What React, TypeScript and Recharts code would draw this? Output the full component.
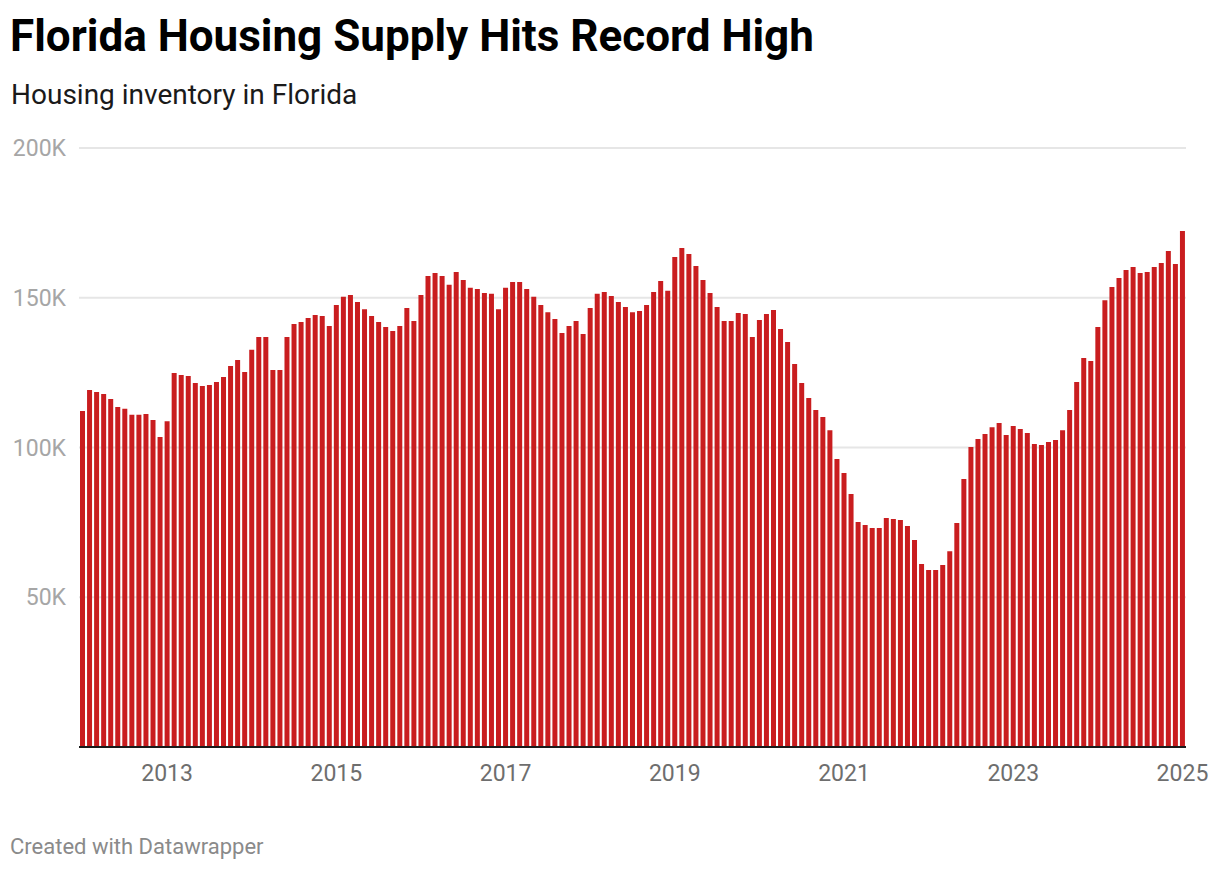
import { BarChart, Bar, XAxis, YAxis, CartesianGrid } from 'recharts';

// housing inventory, thousands, monthly Jan 2012 .. Jan 2025
const v2012 = [112.2, 119.2, 118.5, 117.9, 116.2, 113.5, 112.9, 110.9, 110.9, 111.2, 109.2, 103.5];
const v2013 = [108.8, 124.9, 124.2, 123.9, 121.5, 120.5, 120.9, 121.9, 123.5, 127.2, 129.2, 125.2];
const v2014 = [132.6, 136.9, 136.9, 125.9, 125.9, 136.9, 141.2, 141.9, 143.2, 144.2, 143.9, 140.6];
const v2015 = [147.6, 150.3, 150.9, 148.6, 146.2, 143.9, 141.9, 140.2, 138.9, 140.6, 146.6, 142.2];
const v2016 = [150.9, 157.3, 158.3, 157.3, 154.3, 158.6, 155.9, 153.3, 152.9, 151.6, 151.3, 146.2];
const v2017 = [153.3, 155.3, 155.3, 152.9, 150.3, 147.6, 145.2, 142.9, 138.2, 140.6, 142.2, 137.9];
const v2018 = [146.6, 151.3, 151.9, 150.6, 148.6, 146.9, 145.2, 145.6, 147.6, 151.9, 155.6, 152.3];
const v2019 = [163.6, 166.6, 164.6, 160.6, 155.9, 151.6, 146.9, 142.2, 142.2, 144.9, 144.6, 136.9];
const v2020 = [142.6, 144.6, 145.9, 139.6, 135.2, 127.9, 121.5, 116.5, 112.5, 110.2, 105.8, 96.2];
const v2021 = [91.5, 84.5, 75.1, 74.1, 73.1, 73.1, 76.5, 76.1, 75.8, 73.8, 69.1, 61.1];
const v2022 = [59.1, 59.1, 60.8, 65.4, 74.8, 89.5, 100.2, 102.8, 104.5, 106.8, 108.2, 104.2];
const v2023 = [107.2, 106.2, 104.8, 101.2, 100.8, 101.8, 102.5, 105.8, 112.5, 121.9, 129.9, 128.9];
const v2024 = [140.2, 149.2, 153.6, 156.6, 159.3, 160.3, 158.3, 158.6, 160.3, 161.6, 165.6, 161.3];
const v2025 = [172.3];

const years = [2012, 2013, 2014, 2015, 2016, 2017, 2018, 2019, 2020, 2021, 2022, 2023, 2024, 2025];
const byYear = [v2012, v2013, v2014, v2015, v2016, v2017, v2018, v2019, v2020, v2021, v2022, v2023, v2024, v2025];
const yTicks = [50000, 100000, 150000, 200000];
const xTicks = ['2013-01', '2015-01', '2017-01', '2019-01', '2021-01', '2023-01', '2025-01'];

const data = years.flatMap((y, yi) =>
  byYear[yi].map((v, m) => ({ month: `${y}-${String(m + 1).padStart(2, '0')}`, inventory: v * 1000 }))
);

const font = 'Roboto, "Noto Sans", sans-serif';

export default function App() {
  return (
    <div style={{ position: 'absolute', left: 0, top: 0, width: 1220, height: 870, background: '#fff', fontFamily: font }}>
      <div style={{ position: 'absolute', left: 10, top: 14, fontSize: 44, fontWeight: 700, lineHeight: 1, color: '#000', whiteSpace: 'nowrap' }}>
        Florida Housing Supply Hits Record High
      </div>
      <div style={{ position: 'absolute', left: 11, top: 81, fontSize: 28, lineHeight: 1, color: '#1a1a1a', whiteSpace: 'nowrap' }}>
        Housing inventory in Florida
      </div>
      <div style={{ position: 'absolute', left: 0, top: 0 }}>
        <BarChart width={1220} height={870} data={data} margin={{ top: 148, right: 34, bottom: 93, left: 0 }} barCategoryGap={1}>
          <CartesianGrid vertical={false} stroke="#e6e6e6" strokeWidth={2} />
          <XAxis
            dataKey="month"
            ticks={xTicks}
            interval={0}
            height={30}
            tickFormatter={(v: string) => v.slice(0, 4)}
            axisLine={{ stroke: '#1a1a1a', strokeWidth: 2 }}
            tickLine={false}
            tickSize={0}
            tickMargin={18}
            tick={{ fill: '#6e6e6e', fontSize: 23, fontFamily: font }}
          />
          <YAxis
            width={79}
            domain={[0, 200000]}
            ticks={yTicks}
            axisLine={false}
            tickLine={false}
            tickSize={0}
            tickMargin={13}
            tickFormatter={(v: number) => `${v / 1000}K`}
            tick={{ fill: '#a6a6a6', fontSize: 23, fontFamily: font }}
          />
          <Bar dataKey="inventory" fill="#c91d1f" isAnimationActive={false} />
        </BarChart>
      </div>
      <div style={{ position: 'absolute', left: 10, top: 836, fontSize: 22, lineHeight: 1, color: '#8a8a8a', whiteSpace: 'nowrap' }}>
        Created with Datawrapper
      </div>
    </div>
  );
}
